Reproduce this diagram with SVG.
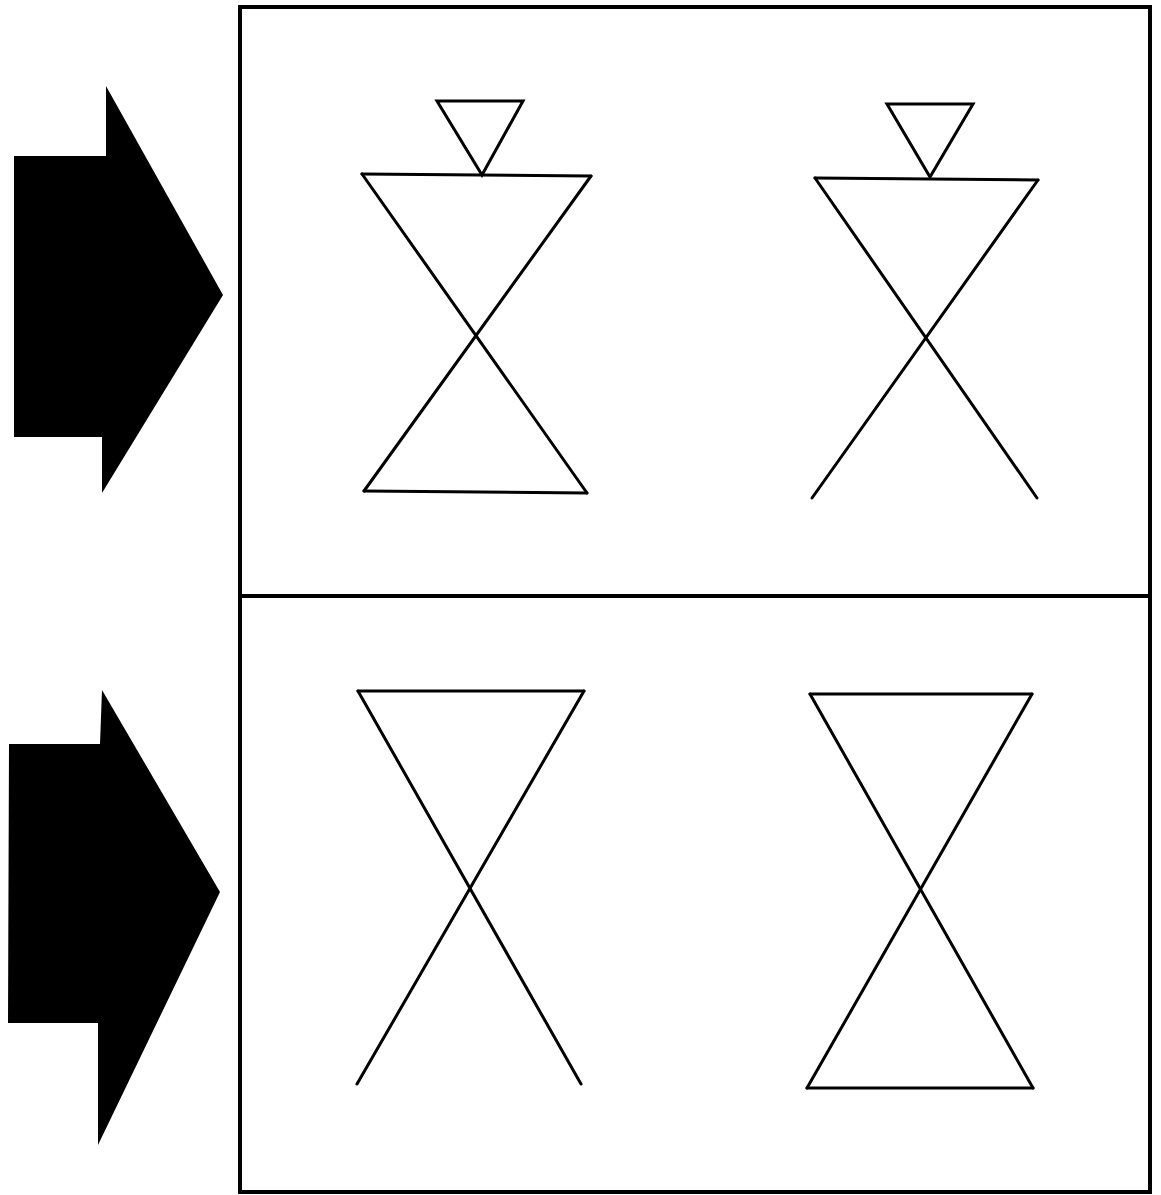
<svg xmlns="http://www.w3.org/2000/svg" width="1161" height="1195" viewBox="0 0 1161 1195">
<style>
.arrow{fill:#000;stroke:none}
.frame{fill:none;stroke:#000;stroke-width:4}
.glass{fill:none;stroke:#000;stroke-width:3;stroke-linejoin:miter;stroke-linecap:round}
</style>
<rect width="1161" height="1195" fill="#fff"/>
<g id="arrow-top"><polygon class="arrow" points="14,156 106,156 106,86 223,295 102,493 102,437 14,437"/></g>
<g id="arrow-bottom"><polygon class="arrow" points="9,744 100,744 102,690 220,892 98,1145 98,1023 8,1023"/></g>
<g id="frame">
<rect class="frame" x="240" y="7" width="910" height="1185"/>
<line class="frame" x1="240" y1="596" x2="1150" y2="596"/>
</g>
<g id="glass-1">
<polygon class="glass" points="437,101 523,101 482,175"/>
<line class="glass" x1="362" y1="174" x2="591" y2="176"/>
<line class="glass" x1="362" y1="174" x2="587" y2="493"/>
<line class="glass" x1="591" y1="176" x2="364" y2="491"/>
<line class="glass" x1="364" y1="491" x2="587" y2="493"/>
</g>
<g id="glass-2">
<polygon class="glass" points="887,104 973,104 930,177"/>
<line class="glass" x1="815" y1="178" x2="1038" y2="180"/>
<line class="glass" x1="815" y1="178" x2="1037" y2="498"/>
<line class="glass" x1="1038" y1="180" x2="812" y2="498"/>
</g>
<g id="glass-3">
<line class="glass" x1="358" y1="691" x2="584" y2="691"/>
<line class="glass" x1="358" y1="691" x2="581" y2="1084"/>
<line class="glass" x1="584" y1="691" x2="357" y2="1084"/>
</g>
<g id="glass-4">
<line class="glass" x1="810" y1="694" x2="1032" y2="694"/>
<line class="glass" x1="810" y1="694" x2="1033" y2="1088"/>
<line class="glass" x1="1032" y1="694" x2="807" y2="1088"/>
<line class="glass" x1="807" y1="1088" x2="1033" y2="1088"/>
</g>
</svg>
